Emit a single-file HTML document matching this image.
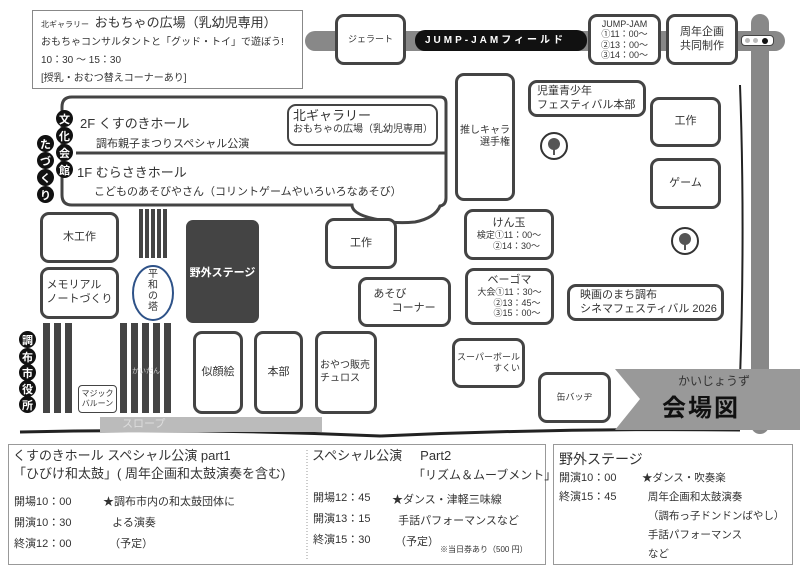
<!DOCTYPE html>
<html><head><meta charset="utf-8"><style>
*{margin:0;padding:0;box-sizing:border-box}
body{width:800px;height:569px;background:#fff;position:relative;overflow:hidden;font-family:"Liberation Sans","Noto Sans CJK JP",sans-serif;color:#333}
.a{position:absolute}
.b{position:absolute;border:3px solid #444;border-radius:9px;background:#fff;display:flex;align-items:center;justify-content:center;text-align:center;font-size:11px;line-height:1.25;white-space:nowrap}
.c{position:absolute;width:17px;height:17px;border-radius:50%;background:#111;color:#fff;font-size:11px;font-weight:bold;display:flex;align-items:center;justify-content:center}
.s{position:absolute;background:#444}
.t{position:absolute;white-space:nowrap}
</style></head><body>
<div class="a" style="left:305px;top:31px;width:480px;height:20px;background:#888;border-radius:10px"></div>
<div class="a" style="left:751px;top:14px;width:18px;height:420px;background:#888;border-radius:9px"></div>
<div class="a" style="left:415px;top:30px;width:172px;height:21px;background:#111;border-radius:10px;color:#fff;font-size:10px;font-weight:bold;letter-spacing:3px;line-height:21px;padding-left:10px;white-space:nowrap">JUMP-JAMフィールド</div>
<div class="a" style="left:741px;top:35px;width:33px;height:11px;background:#fff;border:1px solid #444;border-radius:4px"></div>
<div class="a" style="left:745px;top:38px;width:5px;height:5px;border-radius:50%;background:#bbb"></div>
<div class="a" style="left:753px;top:38px;width:5px;height:5px;border-radius:50%;background:#bbb"></div>
<div class="a" style="left:762px;top:38px;width:6px;height:6px;border-radius:50%;background:#111"></div>

<div class="a" style="left:32px;top:10px;width:271px;height:79px;border:1px solid #888;padding:3px 8px;font-size:10px;line-height:18px;white-space:nowrap">
<div><span style="font-size:8px">北ギャラリー</span>&nbsp;&nbsp;<span style="font-size:13px">おもちゃの広場（乳幼児専用）</span></div>
<div>おもちゃコンサルタントと「グッド・トイ」で遊ぼう!</div>
<div>10：30 ～ 15：30</div>
<div>[授乳・おむつ替えコーナーあり]</div></div>

<div class="b" style="left:335px;top:14px;width:71px;height:51px;font-size:9px">ジェラート</div>
<div class="b" style="left:588px;top:14px;width:73px;height:51px;font-size:9px;line-height:1.15">JUMP-JAM<br>①11：00～<br>②13：00～<br>③14：00～</div>
<div class="b" style="left:666px;top:14px;width:72px;height:51px">周年企画<br>共同制作</div>

<svg class="a" style="left:0;top:0" width="800" height="569">
<path d="M72 97 H440 Q446 97 446 103 V198 Q446 205 440 206 Q435 218 415 222 Q395 224 380 220 Q352 215 352 205 H72 Q62 205 62 195 V107 Q62 97 72 97 Z" fill="#fff" stroke="#444" stroke-width="3"/>
<line x1="76" y1="153" x2="446" y2="153" stroke="#444" stroke-width="3"/>
<path d="M740 85 Q746 250 738 430" fill="none" stroke="#222" stroke-width="2"/>
<path d="M20 432 Q200 428 380 436 Q560 428 740 430" fill="none" stroke="#222" stroke-width="3"/>
<polygon points="615,369 800,369 800,430 615,430 640,399" fill="#999"/>
<ellipse cx="153" cy="293" rx="20" ry="27" fill="#fff" stroke="#2e5288" stroke-width="2"/>
<circle cx="554" cy="146" r="13" fill="#fff" stroke="#333" stroke-width="2"/>
<circle cx="554" cy="144" r="6" fill="#555"/><rect x="553" y="148" width="2" height="7" fill="#555"/>
<circle cx="685" cy="241" r="13" fill="#fff" stroke="#333" stroke-width="2"/>
<circle cx="685" cy="239" r="6" fill="#555"/><rect x="684" y="243" width="2" height="7" fill="#555"/>
<line x1="307" y1="450" x2="307" y2="560" stroke="#999" stroke-width="1" stroke-dasharray="1,2"/>
</svg>
<div class="t" style="left:80px;top:113px;font-size:13px">2F くすのきホール</div>
<div class="t" style="left:96px;top:135px;font-size:11px">調布親子まつりスペシャル公演</div>
<div class="t" style="left:77px;top:162px;font-size:13px">1F むらさきホール</div>
<div class="t" style="left:94px;top:183px;font-size:11px">こどものあそびやさん（コリントゲームやいろいろなあそび）</div>
<div class="b" style="left:287px;top:104px;width:151px;height:42px;font-size:10px;display:block;text-align:left;padding:2px 4px;border-width:2px"><div style="font-size:13px">北ギャラリー</div>おもちゃの広場（乳幼児専用）</div>
<div class="c" style="left:56px;top:110px">文</div>
<div class="c" style="left:56px;top:127px">化</div>
<div class="c" style="left:56px;top:144px">会</div>
<div class="c" style="left:56px;top:161px">館</div>
<div class="c" style="left:37px;top:135px">た</div>
<div class="c" style="left:37px;top:152px">づ</div>
<div class="c" style="left:37px;top:169px">く</div>
<div class="c" style="left:37px;top:186px">り</div>

<div class="b" style="left:455px;top:73px;width:60px;height:128px;font-size:10px;text-align:right">推しキャラ<br>選手権</div>
<div class="b" style="left:528px;top:80px;width:118px;height:37px;justify-content:flex-start;text-align:left;padding-left:6px">児童青少年<br>フェスティバル本部</div>
<div class="b" style="left:650px;top:97px;width:71px;height:50px">工作</div>
<div class="b" style="left:650px;top:158px;width:71px;height:51px">ゲーム</div>
<div class="b" style="left:464px;top:209px;width:90px;height:51px;font-size:9px;line-height:1.2"><div><span style="font-size:11px">けん玉</span><br>検定①11：00～<br>&nbsp;&nbsp;&nbsp;&nbsp;&nbsp;&nbsp;②14：30～</div></div>
<div class="b" style="left:465px;top:268px;width:89px;height:57px;font-size:9px;line-height:1.2"><div><span style="font-size:11px">ベーゴマ</span><br>大会①11：30～<br>&nbsp;&nbsp;&nbsp;&nbsp;&nbsp;&nbsp;②13：45～<br>&nbsp;&nbsp;&nbsp;&nbsp;&nbsp;&nbsp;③15：00～</div></div>
<div class="b" style="left:567px;top:284px;width:157px;height:37px;justify-content:flex-start;text-align:left;padding-left:10px">映画のまち調布<br>シネマフェスティバル 2026</div>
<div class="b" style="left:452px;top:338px;width:73px;height:50px;font-size:9px;text-align:right">スーパーボール<br>すくい</div>
<div class="b" style="left:538px;top:372px;width:73px;height:51px;font-size:9px">缶バッヂ</div>
<div class="t" style="left:678px;top:372px;font-size:12px">かいじょうず</div>
<div class="t" style="left:662px;top:388px;font-size:24px;font-weight:bold;color:#111;letter-spacing:2px">会場図</div>

<div class="b" style="left:325px;top:218px;width:72px;height:51px">工作</div>
<div class="b" style="left:358px;top:277px;width:93px;height:50px;text-align:left">あそび<br>&nbsp;&nbsp;&nbsp;&nbsp;&nbsp;&nbsp;コーナー</div>
<div class="b" style="left:40px;top:212px;width:79px;height:51px">木工作</div>
<div class="b" style="left:40px;top:267px;width:79px;height:52px;text-align:left">メモリアル<br>ノートづくり</div>
<div class="s" style="left:139px;top:209px;width:4px;height:49px"></div>
<div class="s" style="left:145px;top:209px;width:4px;height:49px"></div>
<div class="s" style="left:151px;top:209px;width:4px;height:49px"></div>
<div class="s" style="left:157px;top:209px;width:4px;height:49px"></div>
<div class="s" style="left:163px;top:209px;width:4px;height:49px"></div>
<div class="t" style="left:146px;top:269px;font-size:10px;line-height:11px;text-align:center;width:14px;white-space:normal">平和の塔</div>
<div class="a" style="left:186px;top:220px;width:73px;height:103px;background:#444;border-radius:7px;color:#fff;font-size:11px;font-weight:bold;display:flex;align-items:center;justify-content:center;white-space:nowrap">野外ステージ</div>
<div class="s" style="left:43px;top:323px;width:7px;height:90px"></div>
<div class="s" style="left:54px;top:323px;width:7px;height:90px"></div>
<div class="s" style="left:65px;top:323px;width:7px;height:90px"></div>
<div class="s" style="left:120px;top:323px;width:7px;height:90px"></div>
<div class="s" style="left:131px;top:323px;width:7px;height:90px"></div>
<div class="s" style="left:142px;top:323px;width:7px;height:90px"></div>
<div class="s" style="left:153px;top:323px;width:7px;height:90px"></div>
<div class="s" style="left:164px;top:323px;width:7px;height:90px"></div>
<div class="t" style="left:132px;top:366px;font-size:7px;color:#ccc">かいだん</div>
<div class="c" style="left:19px;top:331px">調</div>
<div class="c" style="left:19px;top:348px">布</div>
<div class="c" style="left:19px;top:364px">市</div>
<div class="c" style="left:19px;top:380px">役</div>
<div class="c" style="left:19px;top:396px">所</div>
<div class="b" style="left:78px;top:385px;width:39px;height:28px;border-width:1px;border-radius:4px;font-size:8px;line-height:1.2">マジック<br>バルーン</div>
<div class="b" style="left:193px;top:331px;width:50px;height:83px">似顔絵</div>
<div class="b" style="left:254px;top:331px;width:49px;height:83px">本部</div>
<div class="b" style="left:315px;top:331px;width:62px;height:83px;text-align:left;justify-content:flex-start;padding-left:2px;font-size:10px">おやつ販売<br>チュロス</div>
<div class="a" style="left:100px;top:417px;width:222px;height:15px;background:#bbb;color:#ddd;font-size:11px;padding-left:22px;line-height:15px">スロープ</div>

<div class="a" style="left:8px;top:444px;width:538px;height:121px;border:1px solid #999"></div>
<div class="a" style="left:553px;top:444px;width:240px;height:121px;border:1px solid #999"></div>
<div class="t" style="left:13px;top:447px;font-size:13px;line-height:18px">くすのきホール スペシャル公演 part1<br>「ひびけ和太鼓」( 周年企画和太鼓演奏を含む)</div>
<div class="t" style="left:14px;top:492px;font-size:11px;line-height:21px">開場10：00<br>開演10：30<br>終演12：00</div>
<div class="t" style="left:103px;top:492px;font-size:11px;line-height:21px">★調布市内の和太鼓団体に<br>&nbsp;&nbsp;&nbsp;よる演奏<br>&nbsp;&nbsp;（予定）</div>
<div class="t" style="left:312px;top:447px;font-size:13px;line-height:18px">スペシャル公演 &nbsp;&nbsp;&nbsp;&nbsp;Part2</div>
<div class="t" style="left:413px;top:466px;font-size:12px">「リズム＆ムーブメント」</div>
<div class="t" style="left:313px;top:488px;font-size:11px;line-height:21px">開場12：45<br>開演13：15<br>終演15：30</div>
<div class="t" style="left:392px;top:490px;font-size:11px;line-height:21px">★ダンス・津軽三味線<br>&nbsp;&nbsp;手話パフォーマンスなど<br>&nbsp;（予定）</div>
<div class="t" style="left:440px;top:544px;font-size:8px">※当日券あり（500 円）</div>
<div class="t" style="left:559px;top:449px;font-size:14px">野外ステージ</div>
<div class="t" style="left:559px;top:469px;font-size:11px;line-height:19px">開演10：00<br>終演15：45</div>
<div class="t" style="left:642px;top:469px;font-size:10.5px;line-height:19px">★ダンス・吹奏楽<br>&nbsp;&nbsp;周年企画和太鼓演奏<br>&nbsp;&nbsp;（調布っ子ドンドンばやし）<br>&nbsp;&nbsp;手話パフォーマンス<br>&nbsp;&nbsp;など</div>
</body></html>
